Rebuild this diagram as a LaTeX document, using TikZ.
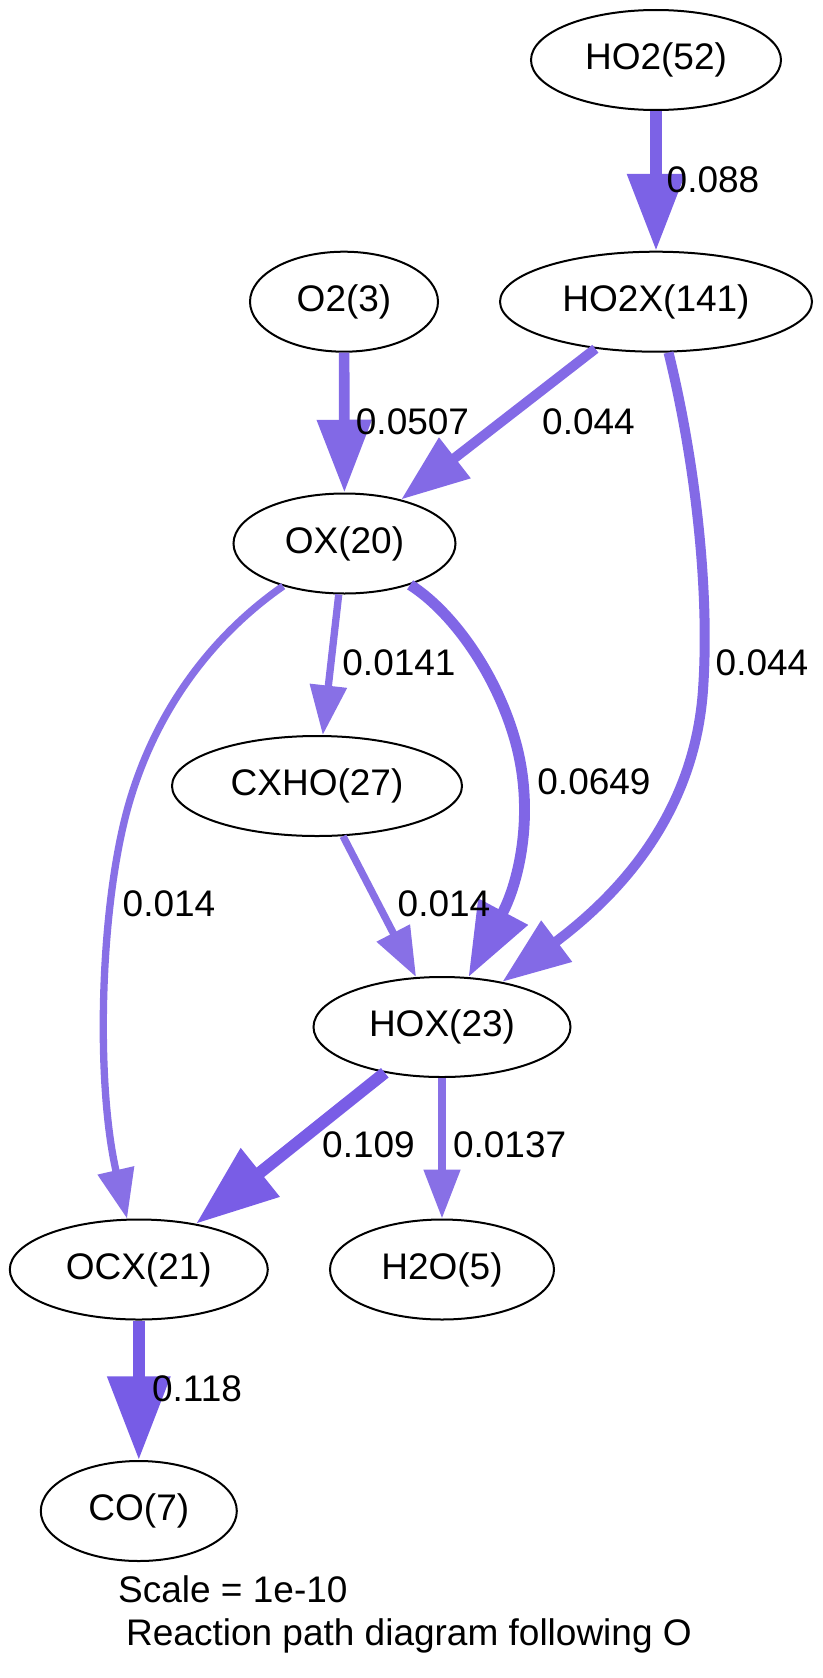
\documentclass[tikz,border=0pt]{standalone}
\usepackage{fontspec}
\setmainfont{Liberation Sans}
\usetikzlibrary{arrows.meta,shapes.geometric}

\definecolor{flux118}{RGB}{119,92,230}
\definecolor{flux109}{RGB}{121,93,230}
\definecolor{flux088}{RGB}{124,98,230}
\definecolor{flux065}{RGB}{128,102,230}
\definecolor{flux051}{RGB}{130,105,230}
\definecolor{flux044}{RGB}{131,106,230}
\definecolor{flux014}{RGB}{136,112,230}

\begin{document}
\begin{tikzpicture}[x=1pt,y=-1pt,>={Triangle[length=0pt 6.8,width=0pt 4.9]},
  every node/.style={font=\fontsize{37}{44}\selectfont},
  species/.style={ellipse,draw=black,line width=2pt,minimum height=100pt,inner sep=0pt},
  flux/.style 2 args={->,line width=#1,draw=#2}]
  \useasboundingbox (0,0) rectangle (822,1678);

  \node[species,minimum width=250pt] (ho2) at (656,60) {HO2(52)};
  \node[species,minimum width=312pt] (ho2x) at (656,301.7) {HO2X(141)};
  \node[species,minimum width=188pt] (o2) at (344,301.7) {O2(3)};
  \node[species,minimum width=222pt] (ox) at (344.5,543.5) {OX(20)};
  \node[species,minimum width=290pt] (cxho) at (317,786) {CXHO(27)};
  \node[species,minimum width=257pt] (hox) at (442,1027) {HOX(23)};
  \node[species,minimum width=258pt] (ocx) at (138.8,1269.5) {OCX(21)};
  \node[species,minimum width=224pt] (h2o) at (442,1269.5) {H2O(5)};
  \node[species,minimum width=196pt] (co) at (138.8,1511) {CO(7)};

  \draw[flux={11.3pt}{flux088}] (ho2) -- (ho2x) node at (713,180) {0.088};
  \draw[flux={10.7pt}{flux051}] (o2) -- (ox) node at (412.5,421.7) {0.0507};
  \draw[flux={10pt}{flux044}] (ho2x) -- (ox) node at (588.5,422) {0.044};
  \draw[flux={10pt}{flux044}] (ho2x) .. controls (695,460) and (710,590) .. (703,690)
    .. controls (696,790) and (645,875) .. (hox) node at (762,663) {0.044};
  \draw[flux={7.3pt}{flux014}] (ox) -- (cxho) node at (399,663) {0.0141};
  \draw[flux={10.9pt}{flux065}] (ox) .. controls (450,610) and (495,670) .. (515,740)
    .. controls (535,810) and (520,880) .. (hox) node at (594,782) {0.0649};
  \draw[flux={7.3pt}{flux014}] (ox) .. controls (220,630) and (160,700) .. (130,800)
    .. controls (100,900) and (95,1080) .. (ocx) node at (169,904) {0.014};
  \draw[flux={7.3pt}{flux014}] (cxho) -- (hox) node at (444,904) {0.014};
  \draw[flux={12.1pt}{flux109}] (hox) -- (ocx) node at (368.5,1145) {0.109};
  \draw[flux={7.2pt}{flux014}] (hox) -- (h2o) node at (509.6,1145) {0.0137};
  \draw[flux={12.3pt}{flux118}] (ocx) -- (co) node at (197,1389) {0.118};

  \node[anchor=base west,inner sep=0pt] (scale) at (118,1602) {Scale = 1e-10};
  \node[anchor=base west,inner sep=0pt] (title) at (126,1645) {Reaction path diagram following O};
\end{tikzpicture}
\end{document}
